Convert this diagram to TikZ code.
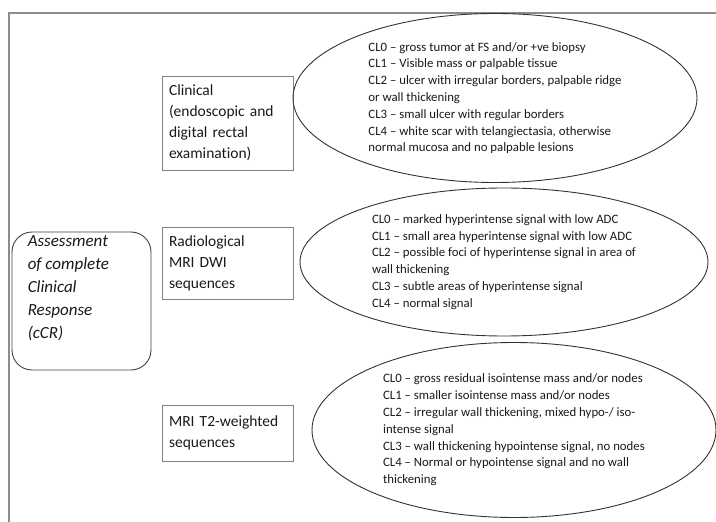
\documentclass[tikz,border=0pt]{standalone}
\usepackage{fontspec}
\setmainfont{Carlito}[Ligatures=NoCommon]
\usetikzlibrary{shapes.geometric, positioning}

\begin{document}
\begin{tikzpicture}[
        x=1pt, y=-1pt,
        every node/.style={text=black!90},
        box/.style={draw=black!50, line width=0.8pt, align=left, text width=117pt,
                    inner xsep=7pt, inner ysep=0pt, font=\fontsize{15.5}{21}\selectfont},
        crit/.style={draw=black!80, line width=0.9pt, ellipse, align=left, inner sep=0pt,
                     font=\fontsize{12.8}{16.8}\selectfont},
        goal/.style={draw=black!75, line width=0.9pt, rounded corners=20pt,
                     minimum width=139pt, minimum height=138pt},
        goaltext/.style={align=left, inner xsep=16pt, inner ysep=4pt,
                         font=\fontsize{17}{23}\selectfont\itshape}
    ]
        \useasboundingbox (0,0) rectangle (716,522);
        % page frame (only top and left visible)
        \draw[black!45, line width=1.5pt] (9,522) -- (9,13) -- (716,13);

        \node[goal] (goal) at (81.5,301) {};
        \node[goaltext, anchor=north west] (goaltxt) at (goal.north west)
            {Assessment\\of complete\\Clinical\\Response\\(cCR)};

        \node[box, minimum height=94pt] (clin) at (227.5,123)
            {Clinical\\(endoscopic and\\digital rectal\\examination)};
        \node[box, minimum height=72pt] (rad)  at (227.5,263)
            {Radiological\\MRI DWI\\sequences};
        \node[box, minimum height=56pt] (t2)   at (227.5,433)
            {MRI T2-weighted\\sequences};

        \node[crit, minimum width=404pt, minimum height=169pt] (clincl) at (495,98)
            {CL0 -- gross tumor at FS and/or +ve biopsy\\
             CL1 -- Visible mass or palpable tissue\\
             CL2 -- ulcer with irregular borders, palpable ridge\\
             or wall thickening\\
             CL3 -- small ulcer with regular borders\\
             CL4 -- white scar with telangiectasia, otherwise\\
             normal mucosa and no palpable lesions};
        \node[crit, minimum width=408pt, minimum height=148pt] (radcl) at (504,262)
            {CL0 -- marked hyperintense signal with low ADC\\
             CL1 -- small area hyperintense signal with low ADC\\
             CL2 -- possible foci of hyperintense signal in area of\\
             wall thickening\\
             CL3 -- subtle areas of hyperintense signal\\
             CL4 -- normal signal};
        \node[crit, minimum width=404pt, minimum height=175pt] (t2cl) at (514,430)
            {CL0 -- gross residual isointense mass and/or nodes\\
             CL1 -- smaller isointense mass and/or nodes\\
             CL2 -- irregular wall thickening, mixed hypo-/ iso-\\
             intense signal\\
             CL3 -- wall thickening hypointense signal, no nodes\\
             CL4 -- Normal or hypointense signal and no wall\\
             thickening};
    \end{tikzpicture}
\end{document}
